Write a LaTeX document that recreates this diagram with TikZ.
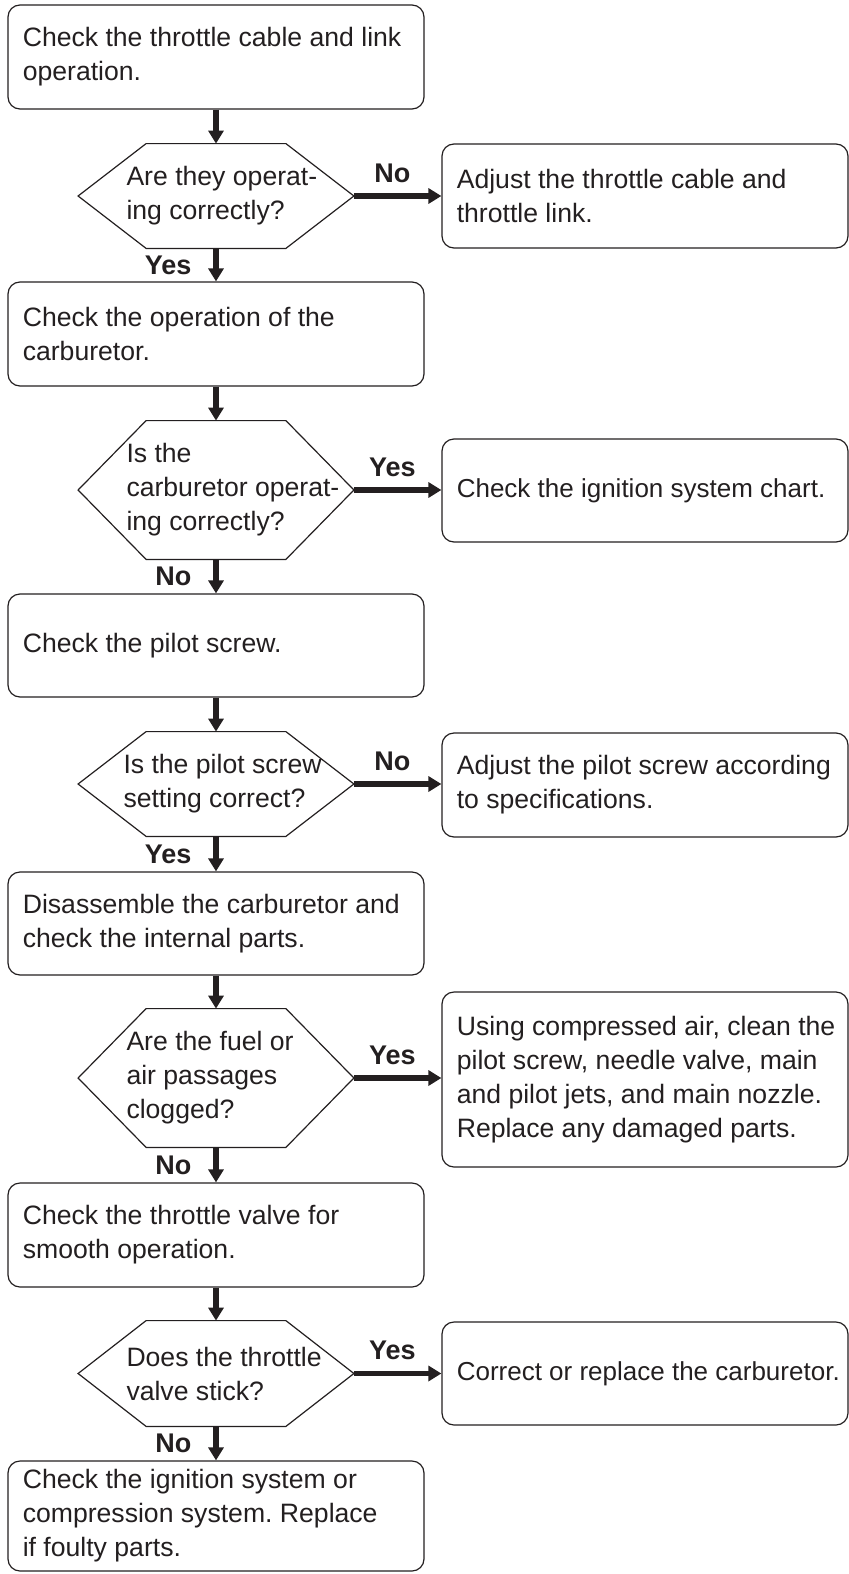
\documentclass[tikz,border=0pt]{standalone}
\usepackage{fontspec}
\setmainfont{Liberation Sans}
\usetikzlibrary{arrows.meta,calc}
\definecolor{ink}{HTML}{231F20}
\frenchspacing
\begin{document}
\begin{tikzpicture}[x=0.5pt,y=-0.5pt,
  box/.style={draw=ink, line width=0.6pt, rounded corners=6pt, inner sep=0pt},
  lbox/.style={box, minimum width=208pt},
  rbox/.style={box, minimum width=203pt},
  txt/.style={anchor=west, align=left, inner sep=0pt, font=\fontsize{13.3pt}{17pt}\selectfont\frenchspacing, text=ink},
  hexn/.style={inner sep=0pt, minimum width=137.5pt},
  hexline/.style={draw=ink, line width=0.6pt, line join=miter},
  arr/.style={draw=ink, line width=2.6pt, -{Triangle[length=6.5pt,width=7.5pt]}},
  lab/.style={font=\fontsize{13.5pt}{16pt}\selectfont\bfseries, text=ink, inner sep=0pt},
  rlab/.style={lab, above=5.5pt, pos=0.44},
  dlab/.style={lab, left=11pt, pos=0.5}
]
\useasboundingbox (0,0) rectangle (849,1574);

% ---- left column boxes
\node[lbox, minimum height=52pt] (b1) at (216,57) {};
\node[txt] (b1t) at ([xshift=7.5pt]b1.west) {Check the throttle cable and link\\operation.};
\node[lbox, minimum height=52pt] (b2) at (216,334) {};
\node[txt] (b2t) at ([xshift=7.5pt]b2.west) {Check the operation of the\\carburetor.};
\node[lbox, minimum height=51.5pt] (b3) at (216,645.5) {};
\node[txt] (b3t) at ([xshift=7.5pt]b3.west) {Check the pilot screw.};
\node[lbox, minimum height=51.5pt] (b4) at (216,923.5) {};
\node[txt] (b4t) at ([xshift=7.5pt]b4.west) {Disassemble the carburetor and\\check the internal parts.};
\node[lbox, minimum height=52pt] (b5) at (216,1235) {};
\node[txt] (b5t) at ([xshift=7.5pt]b5.west) {Check the throttle valve for\\smooth operation.};
\node[lbox, minimum height=55pt] (b6) at (216,1516) {};
\node[txt] (b6t) at ([xshift=7.5pt]b6.west) {Check the ignition system or\\compression system. Replace\\if foulty parts.};

% ---- decisions
\node[hexn, minimum height=52pt] (d1) at (216,196) {};
\node[hexn, minimum height=69pt] (d2) at (216,490) {};
\node[hexn, minimum height=52pt] (d3) at (216,784) {};
\node[hexn, minimum height=69pt] (d4) at (216,1078) {};
\node[hexn, minimum height=52.5pt] (d5) at (216,1373.5) {};
\foreach \d in {d1,d2,d3,d4,d5}{
  \draw[hexline] (\d.west) -- ([xshift=34pt]\d.north west) -- ([xshift=-34pt]\d.north east)
    -- (\d.east) -- ([xshift=-34pt]\d.south east) -- ([xshift=34pt]\d.south west) -- cycle;
}
\node[txt] (d1t) at ([xshift=24pt]d1.west) {Are they operat-\\ing correctly?};
\node[txt] (d2t) at ([xshift=24pt]d2.west) {Is the\\carburetor operat-\\ing correctly?};
\node[txt] (d3t) at ([xshift=22.5pt]d3.west) {Is the pilot screw\\setting correct?};
\node[txt] (d4t) at ([xshift=24pt]d4.west) {Are the fuel or\\air passages\\clogged?};
\node[txt] (d5t) at ([xshift=24pt]d5.west) {Does the throttle\\valve stick?};

% ---- right column boxes
\node[rbox, minimum height=52pt] (r1) at (645,196) {};
\node[txt] (r1t) at ([xshift=7.5pt]r1.west) {Adjust the throttle cable and\\throttle link.};
\node[rbox, minimum height=51.5pt] (r2) at (645,490.5) {};
\node[txt, font=\fontsize{13pt}{17pt}\selectfont] (r2t) at ([xshift=7.5pt]r2.west) {Check the ignition system chart.};
\node[rbox, minimum height=52pt] (r3) at (645,785) {};
\node[txt] (r3t) at ([xshift=7.5pt]r3.west) {Adjust the pilot screw according\\to specifications.};
\node[rbox, minimum height=87.5pt] (r4) at (645,1079.5) {};
\node[txt] (r4t) at ([xshift=7.5pt]r4.west) {Using compressed air, clean the\\pilot screw, needle valve, main\\and pilot jets, and main nozzle.\\Replace any damaged parts.};
\node[rbox, minimum height=51.5pt] (r5) at (645,1373.5) {};
\node[txt, font=\fontsize{13pt}{17pt}\selectfont] (r5t) at ([xshift=7.5pt]r5.west) {Correct or replace the carburetor.};

% ---- vertical connectors
\draw[arr] (b1) -- (d1);
\draw[arr] (d1) -- node[dlab] (l1d) {Yes} (b2);
\draw[arr] (b2) -- (d2);
\draw[arr] (d2) -- node[dlab] (l2d) {No} (b3);
\draw[arr] (b3) -- (d3);
\draw[arr] (d3) -- node[dlab] (l3d) {Yes} (b4);
\draw[arr] (b4) -- (d4);
\draw[arr] (d4) -- node[dlab] (l4d) {No} (b5);
\draw[arr] (b5) -- (d5);
\draw[arr] (d5) -- node[dlab] (l5d) {No} (b6);

% ---- horizontal connectors
\draw[arr] (d1.east) -- node[rlab] (l1r) {No} (d1.east -| r1.west);
\draw[arr] (d2.east) -- node[rlab] (l2r) {Yes} (d2.east -| r2.west);
\draw[arr] (d3.east) -- node[rlab] (l3r) {No} (d3.east -| r3.west);
\draw[arr] (d4.east) -- node[rlab] (l4r) {Yes} (d4.east -| r4.west);
\draw[arr] (d5.east) -- node[rlab] (l5r) {Yes} (d5.east -| r5.west);
\end{tikzpicture}
\end{document}
